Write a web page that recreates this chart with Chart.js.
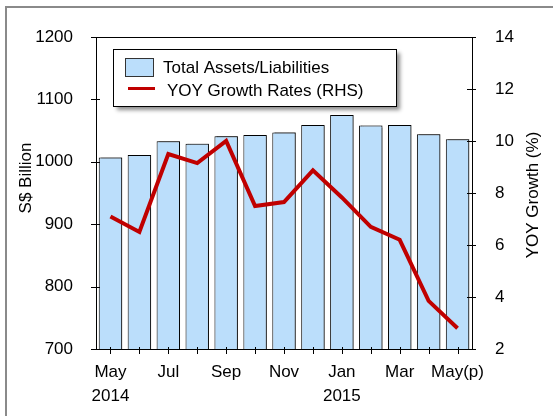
<!DOCTYPE html>
<html>
<head>
<meta charset="utf-8">
<script src="https://cdn.jsdelivr.net/npm/chart.js@4"></script>
<style>
    body { margin: 0; background: #fff; }
    canvas { display: block; }
</style>
</head>
<body>
<canvas id="assetsChart" width="553" height="416"></canvas>
<script>
const months = ['May', 'Jun', 'Jul', 'Aug', 'Sep', 'Oct', 'Nov', 'Dec', 'Jan', 'Feb', 'Mar', 'Apr', 'May(p)'];
const monthTicks = ['May', '', 'Jul', '', 'Sep', '', 'Nov', '', 'Jan', '', 'Mar', '', 'May(p)'];
const yearTicks = ['2014', '', '', '', '', '', '', '', '2015', '', '', '', ''];
const totalAssets = [1007, 1011, 1033, 1029, 1041, 1043, 1047, 1059, 1075, 1058, 1059, 1044, 1036];
const yoyGrowth = [7.1, 6.5, 9.5, 9.15, 10.0, 7.5, 7.65, 8.87, 7.83, 6.7, 6.2, 3.85, 2.8];
const leftAxis = { min: 700, max: 1200, step: 100 };
const rightAxis = { min: 2, max: 14, step: 2 };

const FONT = '"Liberation Sans", Arial, sans-serif';

// frame, legend box, axis titles and the little tick marks
const decorations = {
    id: 'decorations',
    beforeDraw(chart) {
        const ctx = chart.ctx;
        ctx.save();
        ctx.strokeStyle = '#8a8a8a';
        ctx.lineWidth = 2;
        ctx.strokeRect(6, 7, 700, 600);
        ctx.restore();
    },
    beforeDatasetDraw(chart, args) {
        if (args.index !== 0) return;
        const ctx = chart.ctx;
        ctx.save();
        ctx.shadowColor = 'rgba(0,0,0,0.45)';
        ctx.shadowOffsetX = 2;
        ctx.shadowOffsetY = -1;
        ctx.shadowBlur = 1;
    },
    afterDatasetDraw(chart, args) {
        if (args.index !== 0) return;
        chart.ctx.restore();
    },
    afterDraw(chart) {
        const ctx = chart.ctx;
        const area = chart.chartArea;
        const x = chart.scales.x, y = chart.scales.y, y1 = chart.scales.y1;
        ctx.save();
        ctx.strokeStyle = '#000';
        ctx.lineWidth = 1;

        // top border of the plot
        ctx.beginPath();
        ctx.moveTo(area.left, area.top + 0.5);
        ctx.lineTo(area.right, area.top + 0.5);
        ctx.stroke();

        ctx.beginPath();
        y.ticks.forEach(t => {
            const py = Math.round(y.getPixelForValue(t.value)) + 0.5;
            ctx.moveTo(area.left - 5, py);
            ctx.lineTo(area.left + 4, py);
        });
        y1.ticks.forEach(t => {
            const py = Math.round(y1.getPixelForValue(t.value)) + 0.5;
            ctx.moveTo(area.right - 5, py);
            ctx.lineTo(area.right + 4, py);
        });
        months.forEach((m, i) => {
            const px = Math.round(x.getPixelForValue(i)) + 0.5;
            ctx.moveTo(px, area.bottom - 2);
            ctx.lineTo(px, area.bottom + 5);
        });
        ctx.stroke();

        // axis titles
        ctx.fillStyle = '#000';
        ctx.font = '17px ' + FONT;
        ctx.textAlign = 'center';
        ctx.textBaseline = 'middle';
        ctx.save();
        ctx.translate(26, 178);
        ctx.rotate(-Math.PI / 2);
        ctx.fillText('S$ Billion', 0, 0);
        ctx.restore();
        ctx.save();
        ctx.translate(533, 195);
        ctx.rotate(-Math.PI / 2);
        ctx.fillText('YOY Growth (%)', 0, 0);
        ctx.restore();

        // legend
        const bx = 113, by = 49, bw = 283, bh = 57;
        ctx.save();
        ctx.shadowColor = 'rgba(0,0,0,0.45)';
        ctx.shadowOffsetX = 4;
        ctx.shadowOffsetY = 4;
        ctx.shadowBlur = 4;
        ctx.fillStyle = '#fff';
        ctx.fillRect(bx, by, bw, bh);
        ctx.restore();
        ctx.strokeStyle = '#000';
        ctx.strokeRect(bx + 0.5, by + 0.5, bw, bh);

        const bars = chart.data.datasets[0], line = chart.data.datasets[1];
        ctx.fillStyle = bars.backgroundColor;
        ctx.fillRect(125, 58, 28, 18);
        ctx.strokeStyle = '#333';
        ctx.strokeRect(125.5, 58.5, 28, 18);
        ctx.strokeStyle = line.borderColor;
        ctx.lineWidth = 3;
        ctx.beginPath();
        ctx.moveTo(128, 88.5);
        ctx.lineTo(155, 88.5);
        ctx.stroke();
        ctx.fillStyle = '#000';
        ctx.textAlign = 'left';
        ctx.fillText(bars.label, 163, 68);
        ctx.fillText(line.label, 167, 91);
        ctx.restore();
    }
};

const data = {
    labels: months,
    datasets: [{
            type: 'bar',
            label: 'Total Assets/Liabilities',
            data: totalAssets,
            yAxisID: 'y',
            backgroundColor: '#bbdefb',
            borderColor: '#000',
            borderWidth: 1,
            borderSkipped: 'bottom',
            categoryPercentage: 0.81,
            barPercentage: 1,
            order: 1
        },
        {
            type: 'line',
            label: 'YOY Growth Rates (RHS)',
            data: yoyGrowth,
            yAxisID: 'y1',
            borderColor: '#c00000',
            borderWidth: 4,
            pointRadius: 0,
            tension: 0,
            order: 0
        }
    ]
};

const tickFont = { family: FONT, size: 17 };

const config = {
    data: data,
    options: {
        responsive: false,
        animation: false,
        layout: { padding: { top: 37, left: 0, right: 0, bottom: 0 } },
        plugins: {
            legend: { display: false },
            tooltip: { enabled: false }
        },
        scales: {
            x: {
                offset: true,
                grid: { display: false },
                border: { color: '#000', width: 1 },
                ticks: {
                    autoSkip: false,
                    maxRotation: 0,
                    padding: 3,
                    color: '#000',
                    font: { family: FONT, size: 17, lineHeight: 1.41 },
                    callback: (v, i) => yearTicks[i] ? [monthTicks[i], yearTicks[i]] : monthTicks[i]
                },
                afterFit: s => { s.height = 67; }
            },
            y: {
                position: 'left',
                min: leftAxis.min,
                max: leftAxis.max,
                grid: { display: false },
                border: { color: '#000', width: 1 },
                ticks: { stepSize: leftAxis.step, padding: 15, color: '#000', font: tickFont, callback: v => String(v) },
                afterFit: s => { s.width = 96; }
            },
            y1: {
                position: 'right',
                min: rightAxis.min,
                max: rightAxis.max,
                grid: { display: false },
                border: { color: '#000', width: 1 },
                ticks: { stepSize: rightAxis.step, padding: 15, color: '#000', font: tickFont, callback: v => String(v) },
                afterFit: s => { s.width = 81; }
            }
        }
    },
    plugins: [decorations]
};

const assetsChart = new Chart('assetsChart', config);
</script>
</body>
</html>
